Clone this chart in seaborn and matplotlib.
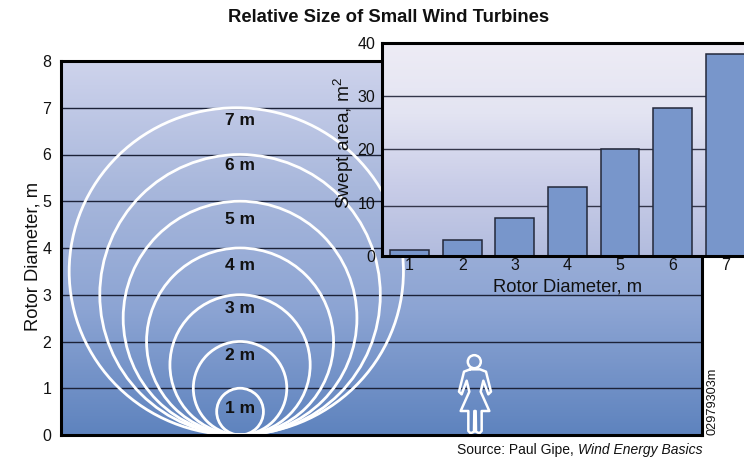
import numpy as np
import matplotlib
matplotlib.use('Agg')
import matplotlib.pyplot as plt
import seaborn as sns
from matplotlib.colors import LinearSegmentedColormap
from matplotlib.patches import Ellipse

# data
rotor_diameters = [1, 2, 3, 4, 5, 6, 7]
circle_widths = [1, 2, 3, 4, 5, 6, 7.15]
circle_centers = [3.83, 3.83, 3.83, 3.83, 3.83, 3.83, 3.75]
circle_labels = ['1 m', '2 m', '3 m', '4 m', '5 m', '6 m', '7 m']
label_heights = [0.57, 1.7, 2.71, 3.63, 4.6, 5.76, 6.73]
swept_area = [1.0, 2.9, 7.0, 13.0, 20.0, 27.8, 37.9]
main_ticks = [0, 1, 2, 3, 4, 5, 6, 7, 8]
inset_ticks = [0, 10, 20, 30, 40]
inset_grid = [9.4, 20, 30]

sns.set_theme(style='white')
plt.rcParams['font.family'] = ['Liberation Sans', 'DejaVu Sans']
plt.rcParams['mathtext.default'] = 'regular'

W, H = 744, 458
UNIT = 46.75
fig = plt.figure(figsize=(W / 100, H / 100), dpi=100)


def add_axes_px(left, top, right, bottom):
    return fig.add_axes([left / W, 1 - bottom / H, (right - left) / W, (bottom - top) / H])


def gradient(ax, colors):
    cmap = LinearSegmentedColormap.from_list('bg', colors)
    ax.imshow(np.linspace(0, 1, 256).reshape(-1, 1), cmap=cmap, aspect='auto',
              extent=(0, 1, 0, 1), transform=ax.transAxes, zorder=0)


# main panel
ax = add_axes_px(61, 61, 702, 435)
gradient(ax, ['#ced3ec', '#a9b8dc', '#8ca4d3', '#5e83be'])
ax.set_xlim(0, 641 / UNIT)
ax.set_ylim(0, 8)
ax.set_yticks(main_ticks)
ax.set_xticks([])
ax.tick_params(axis='y', length=0, labelsize=11.5, pad=7, colors='#111111')
ax.hlines(main_ticks[1:-1], 0, 641 / UNIT, color='#1c2238', lw=1.0, zorder=1)
ax.set_ylabel('Rotor Diameter, m', fontsize=13.2, color='#111111')
ax.yaxis.set_label_coords(-0.031, 0.477)
for w, d, c in zip(circle_widths, rotor_diameters, circle_centers):
    ax.add_patch(Ellipse((c, d / 2), w, d, fill=False, ec='white', lw=2.0, zorder=2))
for lab, y in zip(circle_labels, label_heights):
    ax.text(3.83, y, lab, ha='center', va='center', fontsize=12.5, fontweight='bold', color='#111111', zorder=3)


# woman pictogram, traced in zoom pixels
def draw_px(points):
    p = np.array(points, dtype=float)
    x = 450 + p[:, 0] / 3
    y = 350 + p[:, 1] / 3
    ax.plot((x - 61) / UNIT, (435 - y) / UNIT, color='white', lw=1.8, zorder=2, solid_joinstyle='round')


draw_px([(60, 58), (42, 65), (27, 125), (35, 133), (50, 92), (58, 125), (32, 183), (55, 183), (55, 243),
         (62, 250), (72, 245), (73, 183), (77, 183), (78, 245), (88, 250), (95, 243), (95, 183),
         (118, 183), (92, 125), (100, 92), (115, 133), (123, 125), (108, 65), (90, 58), (60, 58)])
ax.add_patch(Ellipse(((474.3 - 61) / UNIT, (435 - 361.7) / UNIT), 13 / UNIT, 13 / UNIT,
                     fill=False, ec='white', lw=1.8, zorder=2))

for s in ['top', 'left', 'bottom', 'right']:
    ax.spines[s].set_visible(True)
    ax.spines[s].set_color('black')
    ax.spines[s].set_linewidth(2.2)

# inset bar chart
inset = add_axes_px(382, 43, 750, 255.7)
inset.set_zorder(5)
gradient(inset, ['#eeecf5', '#e3e4f2', '#c9cde8', '#b2bcde'])
inset.hlines(inset_grid, -1, 8, color='#33364a', lw=1.0, zorder=1)
sns.barplot(x=rotor_diameters, y=swept_area, ax=inset, color='#7896cb', saturation=1,
            width=0.74, edgecolor='#23283a', linewidth=1.1, zorder=2)
inset.set_xlim(-0.523, 6.47)
inset.set_ylim(0, 40)
inset.set_yticks(inset_ticks)
inset.tick_params(axis='both', length=0, labelsize=11.5, colors='#111111')
inset.tick_params(axis='y', pad=5)
inset.tick_params(axis='x', pad=2)
inset.set_xlabel('Rotor Diameter, m', fontsize=13.2, color='#111111', labelpad=0)
inset.xaxis.set_label_coords((568 - 382) / 368, -0.109)
inset.set_ylabel('Swept area, m$^2$', fontsize=13.8, color='#111111')
inset.yaxis.set_label_coords((356 - 382) / 368, 0.53)
for s in ['top', 'left', 'bottom', 'right']:
    inset.spines[s].set_visible(True)
    inset.spines[s].set_color('black')
    inset.spines[s].set_linewidth(2.2)

# title and notes
fig.text(388.5 / W, 1 - 18 / H, 'Relative Size of Small Wind Turbines', ha='center', va='center',
         fontsize=13.3, fontweight='bold', color='#111111')
fig.text(457 / W, 1 - 450 / H, 'Source: Paul Gipe,', ha='left', va='center',
         fontsize=10, color='#111111')
fig.text(703 / W, 1 - 450 / H, 'Wind Energy Basics', ha='right', va='center',
         fontsize=10, style='italic', color='#111111')
fig.text(712 / W, 1 - 401 / H, '02979303m', rotation=90, ha='center', va='center',
         fontsize=9.2, color='#111111')

fig.savefig('out.png', dpi=100)
